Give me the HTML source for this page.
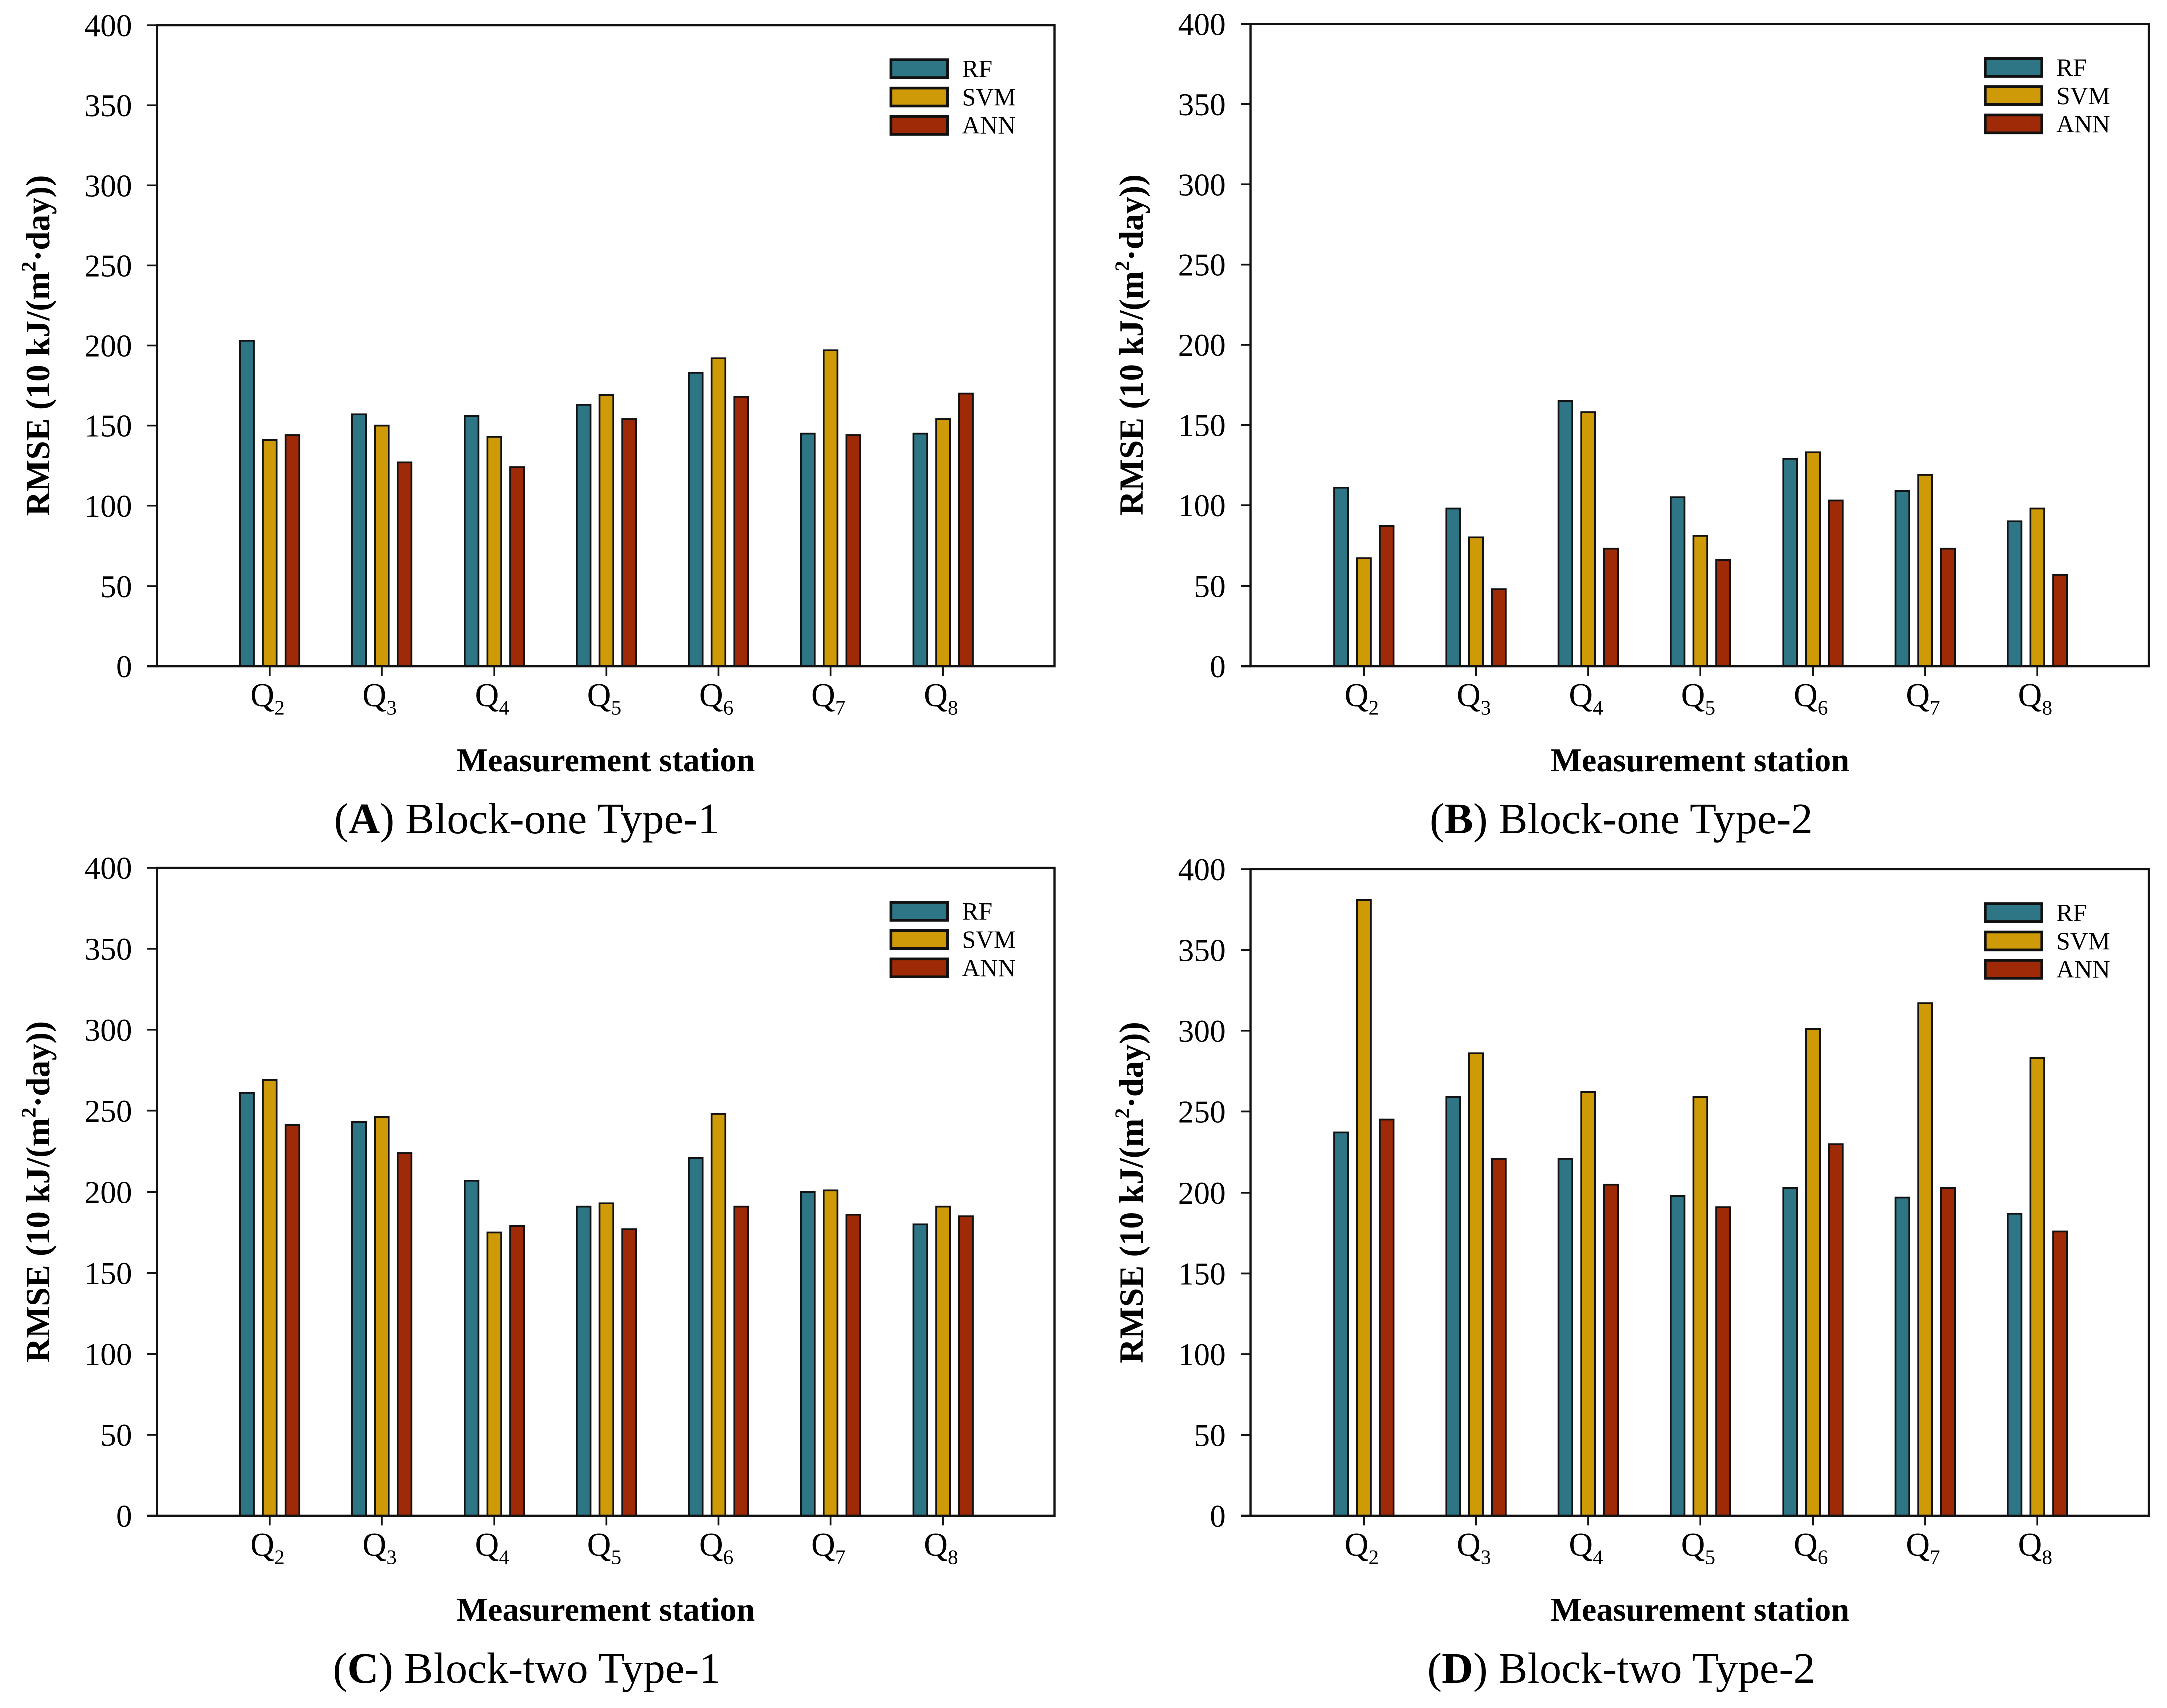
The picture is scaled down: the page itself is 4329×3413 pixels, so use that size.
<!DOCTYPE html>
<html><head><meta charset="utf-8"><style>
html,body{margin:0;padding:0;background:#fff}
svg{display:block}
text{font-family:"Liberation Serif",serif;fill:#000}
</style></head><body>
<svg id="chart" width="4329" height="3413" viewBox="0 0 1568 1236" xmlns="http://www.w3.org/2000/svg"></svg>
<script>
const categories = ["2","3","4","5","6","7","8"];
const seriesNames = ["RF","SVM","ANN"];
const yTicks = [0,50,100,150,200,250,300,350,400];
const panelA_RF  = [203,157,156,163,183,145,145];
const panelA_SVM = [141,150,143,169,192,197,154];
const panelA_ANN = [144,127,124,154,168,144,170];
const panelB_RF  = [111,98,165,105,129,109,90];
const panelB_SVM = [67,80,158,81,133,119,98];
const panelB_ANN = [87,48,73,66,103,73,57];
const panelC_RF  = [261,243,207,191,221,200,180];
const panelC_SVM = [269,246,175,193,248,201,191];
const panelC_ANN = [241,224,179,177,191,186,185];
const panelD_RF  = [237,259,221,198,203,197,187];
const panelD_SVM = [381,286,262,259,301,317,283];
const panelD_ANN = [245,221,205,191,230,203,176];
const captions = [["A","Block-one Type-1"],["B","Block-one Type-2"],["C","Block-two Type-1"],["D","Block-two Type-2"]];

const colors = ["#2e7585","#cf9a08","#9e2a08"];
const NS = "http://www.w3.org/2000/svg";
const svg = document.getElementById("chart");
function mk(tag, attrs, parent){
  const e = document.createElementNS(NS, tag);
  for (const k in attrs) e.setAttribute(k, attrs[k]);
  (parent||svg).appendChild(e);
  return e;
}
const panels = [
  {x0:113.5,x1:763,yTop:18,yBot:482,data:[panelA_RF,panelA_SVM,panelA_ANN]},
  {x0:905,x1:1555,yTop:17,yBot:482,data:[panelB_RF,panelB_SVM,panelB_ANN]},
  {x0:113.5,x1:763,yTop:628,yBot:1097,data:[panelC_RF,panelC_SVM,panelC_ANN]},
  {x0:905,x1:1555,yTop:629,yBot:1097,data:[panelD_RF,panelD_SVM,panelD_ANN]}
];
panels.forEach((p, pi) => {
  const g = mk("g", {});
  
  
  const yScale = v => p.yBot - (v/400)*(p.yBot - p.yTop);
  const step = (p.x1 - p.x0)/8;
  const xScale = i => p.x0 + (i+1)*step + 0.5;
  p.data.forEach((vals, si) => {
    vals.forEach((v, ci) => {
      const cx = xScale(ci) + (si-1)*16.5;
      const r = mk("rect", {x:cx-5, y:yScale(v), width:10, height:p.yBot-yScale(v), fill:colors[si], stroke:"#111", "stroke-width":1.3}, g);
      
      
    });
  });
  const f = mk("rect", {x:p.x0, y:p.yTop, width:p.x1-p.x0, height:p.yBot-p.yTop, fill:"none", stroke:"#111", "stroke-width":1.6}, g);
  
  
  mk("line", {x1:p.x0-7, x2:p.x0, y1:p.yBot, y2:p.yBot, stroke:"#111", "stroke-width":1.6}, g);
  yTicks.forEach(t => {
    const y = yScale(t);
    mk("line", {x1:p.x0-7, x2:p.x0, y1:y, y2:y, stroke:"#111", "stroke-width":1.3}, g);
    const tx = mk("text", {x:p.x0-18, y:y+8, "text-anchor":"end", "font-size":23}, g);
    tx.textContent = t;
    
    
  });
  categories.forEach((c, ci) => {
    const x = xScale(ci);
    mk("line", {x1:x, x2:x, y1:p.yBot, y2:p.yBot+7, stroke:"#111", "stroke-width":1.3}, g);
    const tx = mk("text", {x:x-14, y:p.yBot+29, "font-size":24}, g);
    tx.textContent = "Q";
    const sub = mk("tspan", {dy:6, "font-size":15}, tx);
    sub.textContent = c;
    
    
  });
  const xt = mk("text", {x:(p.x0+p.x1)/2, y:p.yBot+76, "text-anchor":"middle", "font-size":24, "font-weight":"bold"}, g);
  xt.textContent = "Measurement station";
  
  
  const cy = (p.yTop+p.yBot)/2;
  const yt = mk("text", {x:0, y:0, transform:`translate(${p.x0-78},${cy}) rotate(-90)`, "text-anchor":"middle", "font-size":24.5, "font-weight":"bold"}, g);
  yt.innerHTML = 'RMSE (10 kJ/(m<tspan dy="-10" font-size="15">2</tspan><tspan dy="10">·day))</tspan>';
  
  
  const lg = mk("g", {}, g);
  
  
  seriesNames.forEach((n, si) => {
    const ly = p.yTop + 25 + si*20.5;
    mk("rect", {x:p.x1-118.5, y:ly, width:41, height:13, fill:colors[si], stroke:"#111", "stroke-width":2}, lg);
    const lt = mk("text", {x:p.x1-67, y:ly+12.5, "font-size":18}, lg);
    lt.textContent = n;
    
    
  });
  const cap = mk("text", {x:(p.x0+p.x1)/2 - 57, y:p.yBot+121, "text-anchor":"middle", "font-size":31.5}, g);
  cap.innerHTML = '(<tspan font-weight="bold">' + captions[pi][0] + '</tspan>) ' + captions[pi][1];
  
  
});
</script>
</body></html>
